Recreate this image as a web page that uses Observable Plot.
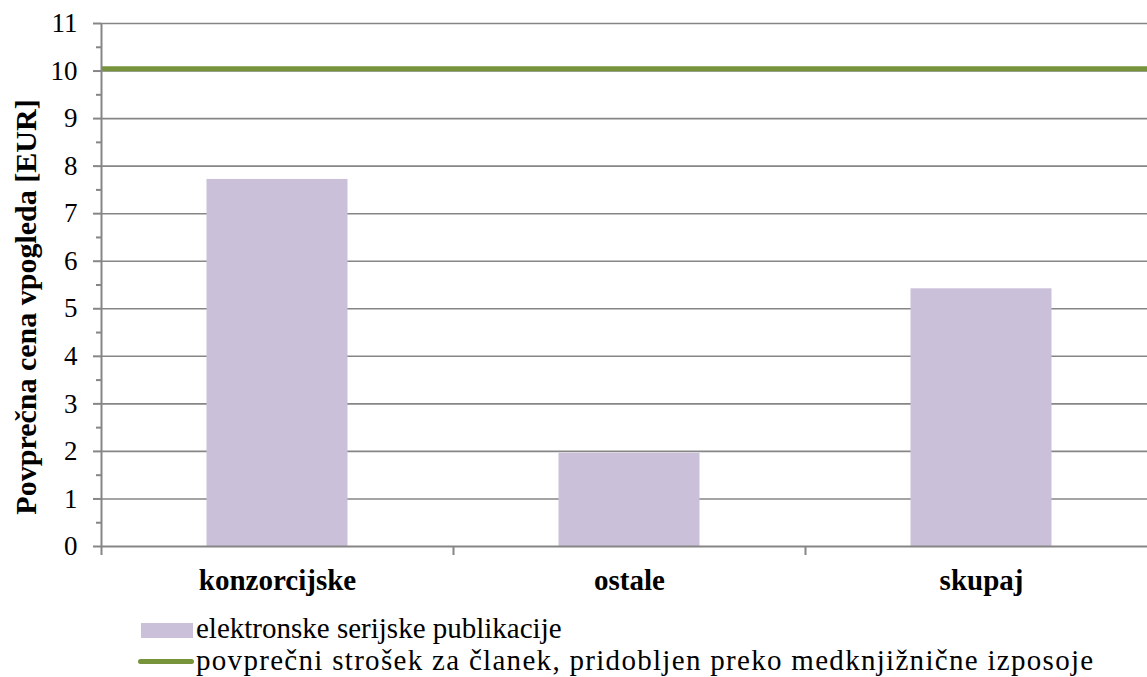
<!DOCTYPE html>
<html>
<head>
<meta charset="utf-8">
<script src="https://cdn.jsdelivr.net/npm/d3@7"></script>
<script src="https://cdn.jsdelivr.net/npm/@observablehq/plot@0.6"></script>
</head>
<body style="margin:0;padding:0;background:#fff">
<div id="wrap" style="position:relative;width:1147px;height:677px;overflow:hidden;font-family:'Liberation Serif'"></div>
<script>
// Data
const categories = ["konzorcijske", "ostale", "skupaj"];
const values = [7.72, 1.96, 5.42];
const referenceCost = [10.05];
const yTicks = [0, 1, 2, 3, 4, 5, 6, 7, 8, 9, 10, 11];
const yMinorTicks = [0.5, 1.5, 2.5, 3.5, 4.5, 5.5, 6.5, 7.5, 8.5, 9.5, 10.5];
const legendLabels = ["elektronske serijske publikacije", "povprečni strošek za članek, pridobljen preko medknjižnične izposoje"];
const yTitle = "Povprečna cena vpogleda [EUR]";

const table = categories.map((c, i) => ({ cat: c, i, value: values[i] }));

const barColor = "#CBC0DA";
const lineColor = "#77933C";
const gridColor = "#868686";
const font = "Liberation Serif";

const chart = Plot.plot({
  width: 1147,
  height: 600,
  marginLeft: 101,
  marginRight: -10,
  marginTop: 23,
  marginBottom: 54,
  style: { background: "white", overflow: "visible" },
  x: { type: "linear", domain: [0, categories.length], axis: null },
  y: { domain: [0, 11], axis: null },
  marks: [
    Plot.gridY(yTicks.filter(d => d > 0), { stroke: gridColor, strokeOpacity: 1, strokeWidth: 1.6 }),
    Plot.rectY(table, { x1: d => d.i, x2: d => d.i + 1, y1: 0, y2: "value", fill: barColor, insetLeft: 105.5, insetRight: 105.5 }),
    Plot.ruleY(referenceCost, { stroke: lineColor, strokeWidth: 5 }),
    Plot.ruleY([0], { stroke: gridColor, strokeWidth: 2 }),
    Plot.ruleX([0], { y1: 0, y2: 11, stroke: gridColor, strokeWidth: 2 }),
    Plot.axisY({ ticks: yTicks, tickSize: 8, tickPadding: 16, fontSize: 27, fontFamily: font, stroke: gridColor, strokeWidth: 2, fill: "black", label: null, tickFormat: d => String(d) }),
    Plot.axisY({ ticks: yMinorTicks, tickSize: 5, stroke: gridColor, strokeWidth: 2, label: null, tickFormat: () => "" }),
    Plot.axisX({ ticks: [0, 1, 2, 3], tickSize: 9, stroke: gridColor, strokeWidth: 2, label: null, tickFormat: () => "" }),
    Plot.axisX({ ticks: categories.map((c, i) => i + 0.5), tickSize: 0, tickPadding: 23, fontSize: 29, fontWeight: "bold", fontFamily: font, fill: "black", label: null, tickFormat: d => categories[Math.floor(d)] }),
    Plot.text([yTitle], { frameAnchor: "left", textAnchor: "middle", rotate: -90, dx: -75, dy: 22, fontSize: 30, fontWeight: "bold", fontFamily: font, fill: "black" })
  ]
});
chart.setAttribute("font-family", font);

const wrap = document.getElementById("wrap");
wrap.appendChild(chart);

// Legend (HTML, below the SVG)
function legText(txt, left, top, spacing) {
  const t = document.createElement("div");
  t.textContent = txt;
  Object.assign(t.style, { position: "absolute", left: left + "px", top: top + "px", fontFamily: font, fontSize: "29px", lineHeight: "1", color: "#000", whiteSpace: "nowrap", letterSpacing: spacing + "px" });
  wrap.appendChild(t);
}
const patch = document.createElement("div");
Object.assign(patch.style, { position: "absolute", left: "141px", top: "623px", width: "52px", height: "15px", background: barColor });
wrap.appendChild(patch);
legText(legendLabels[0], 196, 614, 0);

const line = document.createElement("div");
Object.assign(line.style, { position: "absolute", left: "138px", top: "659px", width: "56px", height: "5px", background: lineColor, borderRadius: "3px" });
wrap.appendChild(line);
legText(legendLabels[1], 196, 646, 1.3);
</script>
</body>
</html>
